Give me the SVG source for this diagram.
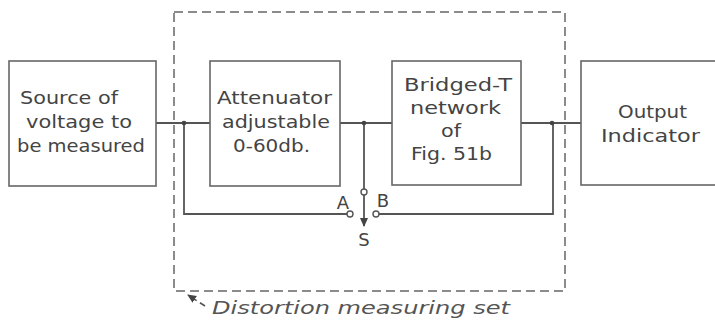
<svg xmlns="http://www.w3.org/2000/svg" width="715" height="320" viewBox="0 0 715 320">
<style>
.box{fill:#fff;stroke:#666;stroke-width:1.6}
.t{font-family:"DejaVu Sans","Liberation Sans",sans-serif;font-size:18px;fill:#444}
.w{fill:none;stroke:#555;stroke-width:1.8}
.dash{fill:none;stroke:#666;stroke-width:1.5;stroke-dasharray:9 5}
.cap{font-family:"DejaVu Sans","Liberation Sans",sans-serif;font-size:18px;font-style:italic;fill:#555}
.term{fill:#fff;stroke:#555;stroke-width:1.4}
.m{text-anchor:middle}
</style>
<defs>
<marker id="ah" markerWidth="10" markerHeight="10" refX="8" refY="5" orient="auto" markerUnits="userSpaceOnUse">
<path d="M0,1 L9,5 L0,9 Z" fill="#444"/>
</marker>
</defs>
<rect width="715" height="320" fill="#fff"/>
<rect class="dash" x="174" y="12" width="391" height="279"/>
<g id="connectors">
<path class="w" d="M156,123 H210"/>
<path class="w" d="M340,123 H392"/>
<path class="w" d="M521,123 H581"/>
<path class="w" d="M184,123 V214 H347"/>
<path class="w" d="M379,214 H553 V123" />
<path class="w" d="M364,123 V189"/>
<path class="w" d="M364,195 V226" marker-end="url(#ah)"/>
<circle cx="184" cy="123" r="2.3" fill="#444"/>
<circle cx="364" cy="123" r="2.3" fill="#444"/>
<circle cx="552" cy="123" r="2.3" fill="#444"/>
<circle class="term" cx="350" cy="214" r="3"/>
<circle class="term" cx="376" cy="214" r="3"/>
<circle class="term" cx="364" cy="192" r="3"/>
<text class="t m" x="343" y="209">A</text>
<text class="t m" x="383" y="207">B</text>
<text class="t m" x="364" y="246">S</text>
</g>
<g id="source">
<rect class="box" x="9" y="61" width="147" height="125"/>
<text class="t" x="20" y="104" textLength="98" lengthAdjust="spacingAndGlyphs">Source of</text>
<text class="t" x="26" y="128" textLength="106" lengthAdjust="spacingAndGlyphs">voltage to</text>
<text class="t" x="17" y="152" textLength="128" lengthAdjust="spacingAndGlyphs">be measured</text>
</g>
<g id="attenuator">
<rect class="box" x="210" y="61" width="130" height="125"/>
<text class="t" x="217" y="104" textLength="115" lengthAdjust="spacingAndGlyphs">Attenuator</text>
<text class="t" x="222" y="128" textLength="108" lengthAdjust="spacingAndGlyphs">adjustable</text>
<text class="t" x="233" y="152" textLength="77" lengthAdjust="spacingAndGlyphs">0-60db.</text>
</g>
<g id="bridged">
<rect class="box" x="392" y="61" width="129" height="124"/>
<text class="t" x="404" y="91" textLength="108" lengthAdjust="spacingAndGlyphs">Bridged-T</text>
<text class="t" x="410" y="114" textLength="91" lengthAdjust="spacingAndGlyphs">network</text>
<text class="t" x="441" y="137" textLength="20" lengthAdjust="spacingAndGlyphs">of</text>
<text class="t" x="411" y="160" textLength="81" lengthAdjust="spacingAndGlyphs">Fig. 51b</text>
</g>
<g id="output">
<rect class="box" x="581" y="61" width="140" height="124"/>
<text class="t" x="618" y="118" textLength="69" lengthAdjust="spacingAndGlyphs">Output</text>
<text class="t" x="601" y="142" textLength="99" lengthAdjust="spacingAndGlyphs">Indicator</text>
</g>
<g id="caption">
<path d="M205,306 L188,295" fill="none" stroke="#555" stroke-width="1.6" stroke-dasharray="6 4" marker-end="url(#ah)"/>
<text class="cap" x="212" y="314" textLength="298" lengthAdjust="spacingAndGlyphs">Distortion measuring set</text>
</g>
</svg>
